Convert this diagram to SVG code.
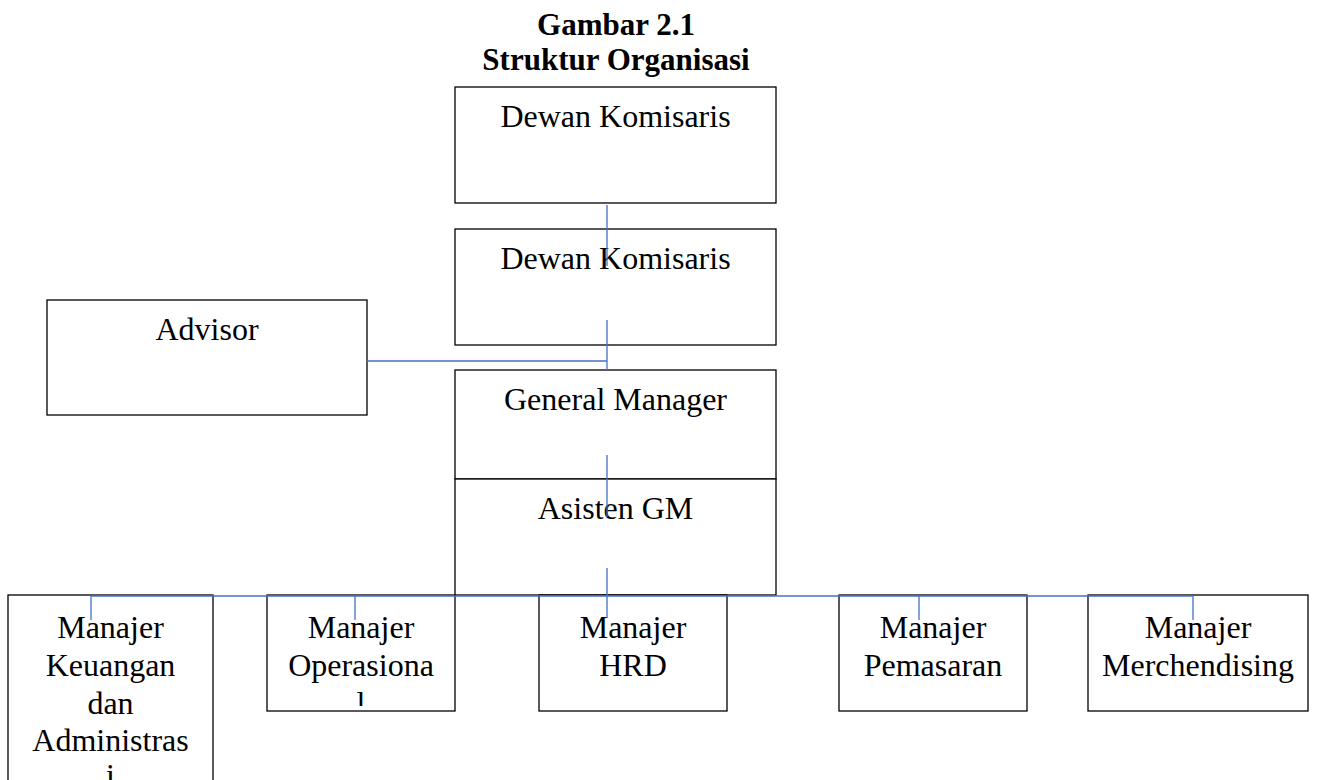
<svg xmlns="http://www.w3.org/2000/svg" width="1327" height="780" viewBox="0 0 1327 780">
  <style>
    .box { fill: #ffffff; stroke: #000000; stroke-width: 1.3; }
    .lbl { font-family: "Liberation Serif", "Times New Roman", serif; font-size: 32px; fill: #000000; text-anchor: middle; }
    .title { font-family: "Liberation Serif", "Times New Roman", serif; font-size: 31px; font-weight: bold; fill: #000000; text-anchor: middle; }
    .conn { stroke: #4472C4; stroke-width: 1.3; fill: none; }
  </style>
  <defs>
    <!-- text areas of the manager boxes; overflowing lines are cut at the box edge -->
    <clipPath id="clip-keu"><rect x="9" y="596" width="203" height="200"/></clipPath>
    <clipPath id="clip-ops"><rect x="268" y="596" width="186" height="110"/></clipPath>
  </defs>
  <rect x="0" y="0" width="1327" height="780" fill="#ffffff"/>

  <!-- heading -->
  <g id="title">
    <text class="title" x="616" y="35">Gambar 2.1</text>
    <text class="title" x="616" y="70">Struktur Organisasi</text>
  </g>

  <!-- upper chain -->
  <g id="dewan-komisaris-1">
    <rect class="box" x="455" y="87" width="321" height="116"/>
    <text class="lbl" x="615.5" y="127">Dewan Komisaris</text>
  </g>
  <g id="dewan-komisaris-2">
    <rect class="box" x="455" y="229" width="321" height="116"/>
    <text class="lbl" x="615.5" y="269">Dewan Komisaris</text>
  </g>
  <g id="advisor">
    <rect class="box" x="47" y="300" width="320" height="115"/>
    <text class="lbl" x="207" y="340">Advisor</text>
  </g>
  <g id="general-manager">
    <rect class="box" x="455" y="370" width="321" height="109"/>
    <text class="lbl" x="615.5" y="410">General Manager</text>
  </g>
  <g id="asisten-gm">
    <rect class="box" x="455" y="479" width="321" height="116"/>
    <text class="lbl" x="615.5" y="519">Asisten GM</text>
  </g>

  <!-- managers -->
  <g id="manajer-keuangan">
    <rect class="box" x="8" y="595" width="205" height="210"/>
    <g clip-path="url(#clip-keu)">
      <text class="lbl" x="110.5" y="638">Manajer</text>
      <text class="lbl" x="110.5" y="676">Keuangan</text>
      <text class="lbl" x="110.5" y="714">dan</text>
      <text class="lbl" x="110.5" y="751">Administras</text>
      <text class="lbl" x="110.5" y="786">i</text>
    </g>
  </g>
  <g id="manajer-operasional">
    <rect class="box" x="267" y="595" width="188" height="116"/>
    <g clip-path="url(#clip-ops)">
      <text class="lbl" x="361" y="638">Manajer</text>
      <text class="lbl" x="361" y="676">Operasiona</text>
      <text class="lbl" x="361" y="714">l</text>
    </g>
  </g>
  <g id="manajer-hrd">
    <rect class="box" x="539" y="595" width="188" height="116"/>
    <text class="lbl" x="633" y="638">Manajer</text>
    <text class="lbl" x="633" y="676">HRD</text>
  </g>
  <g id="manajer-pemasaran">
    <rect class="box" x="839" y="595" width="188" height="116"/>
    <text class="lbl" x="933" y="638">Manajer</text>
    <text class="lbl" x="933" y="676">Pemasaran</text>
  </g>
  <g id="manajer-merchendising">
    <rect class="box" x="1088" y="595" width="220" height="116"/>
    <text class="lbl" x="1198" y="638">Manajer</text>
    <text class="lbl" x="1198" y="676">Merchendising</text>
  </g>

  <!-- connectors -->
  <g id="connectors">
    <line class="conn" x1="607" y1="205" x2="607" y2="266"/>
    <line class="conn" x1="607" y1="320" x2="607" y2="370"/>
    <line class="conn" x1="367" y1="361" x2="607" y2="361"/>
    <line class="conn" x1="607" y1="455" x2="607" y2="517"/>
    <line class="conn" x1="607" y1="568" x2="607" y2="618"/>
    <line class="conn" x1="91" y1="596" x2="1193" y2="596"/>
    <line class="conn" x1="91" y1="596" x2="91" y2="620"/>
    <line class="conn" x1="355" y1="596" x2="355" y2="620"/>
    <line class="conn" x1="919" y1="596" x2="919" y2="620"/>
    <line class="conn" x1="1193" y1="596" x2="1193" y2="620"/>
  </g>
</svg>
